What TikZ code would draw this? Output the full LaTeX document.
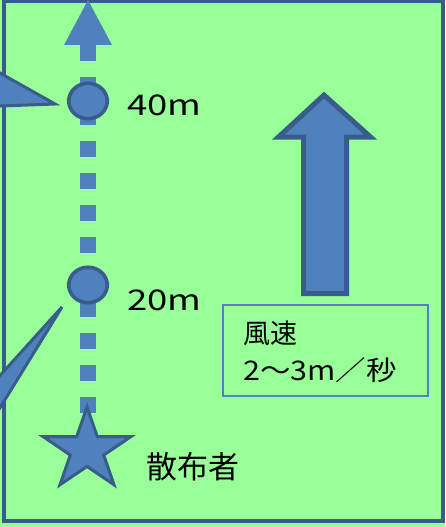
\documentclass[tikz,border=0pt]{standalone}
\usepackage{fontspec}
\newfontfamily\jp{Noto Sans CJK JP}
\usetikzlibrary{shapes.geometric}
\definecolor{bg}{RGB}{153,255,153}
\definecolor{fillblue}{RGB}{79,129,189}
\definecolor{edgeblue}{RGB}{56,93,138}
\definecolor{boxblue}{RGB}{86,125,200}
\begin{document}
\begin{tikzpicture}[x=1pt,y=-1pt,
  shapefill/.style={draw=edgeblue, fill=fillblue, line join=miter},
  dot/.style={ellipse, shapefill, line width=3.6pt, minimum width=38.5pt, minimum height=35.5pt, inner sep=0pt},
  wedge/.style={shapefill, line width=3pt},
  dist/.style={anchor=base west, inner sep=0pt, font=\jp\fontsize{28.5pt}{34pt}\selectfont},
  jtext/.style={anchor=base west, inner sep=0pt, font=\jp\fontsize{27pt}{34pt}\selectfont}]
\useasboundingbox (0,0) rectangle (445,527);
\fill[bg] (0,0) rectangle (445,527);
% frame
\draw[edgeblue, line width=3.5pt] (4,1.5) rectangle (443,521);
% wedges from the left
\begin{scope}
  \clip (0,0) rectangle (445,527);
  \draw[wedge] (-10,67.4) -- (55,104) -- (-10,106.4) -- cycle;
  \draw[wedge] (-10,386.6) -- (62,307) -- (-10,424) -- cycle;
\end{scope}
% dotted path with arrowhead
\coordinate (tip) at (88,0);
\coordinate (base) at (88,45);
\coordinate (lineend) at (88,413);
\draw[fillblue, line width=16pt, dash pattern=on 16pt off 16pt] (base) -- (lineend);
\fill[fillblue] (tip) -- ([xshift=-24pt]base) -- ([xshift=24pt]base) -- cycle;
% markers
\node[dot] (c40) at (88,101) {};
\node[dot] (c20) at (88,285) {};
\node[dist] (l40) at (127,115) {\scalebox{1.28}[1]{40m}};
\node[dist] (l20) at (127,310) {\scalebox{1.28}[1]{20m}};
% star
\begin{scope}[shift={(87,450)}, xscale=1.07]
  \node[star, star points=5, star point ratio=2.618, minimum size=86pt, inner sep=0pt,
        shapefill, line width=3pt, transform shape] (sp) at (0,0) {};
\end{scope}
\node[jtext, font=\jp\fontsize{31pt}{36pt}\selectfont] (who) at (146,478) {散布者};
% wind arrow
\draw[shapefill, line width=5pt] (324,95) -- (370.5,137) -- (346.5,137) -- (346.5,293.5)
  -- (303.5,293.5) -- (303.5,137) -- (278.5,137) -- cycle;
% wind box
\node[draw=boxblue, line width=1.5pt, minimum width=205pt, minimum height=91pt,
      inner sep=0pt, anchor=north west] (wind) at (222,304) {};
\node[jtext] (w1) at (243,343) {風速};
\node[jtext] (w2) at (243,380) {\scalebox{1.13}[1]{2～3m／秒}};
\end{tikzpicture}
\end{document}
